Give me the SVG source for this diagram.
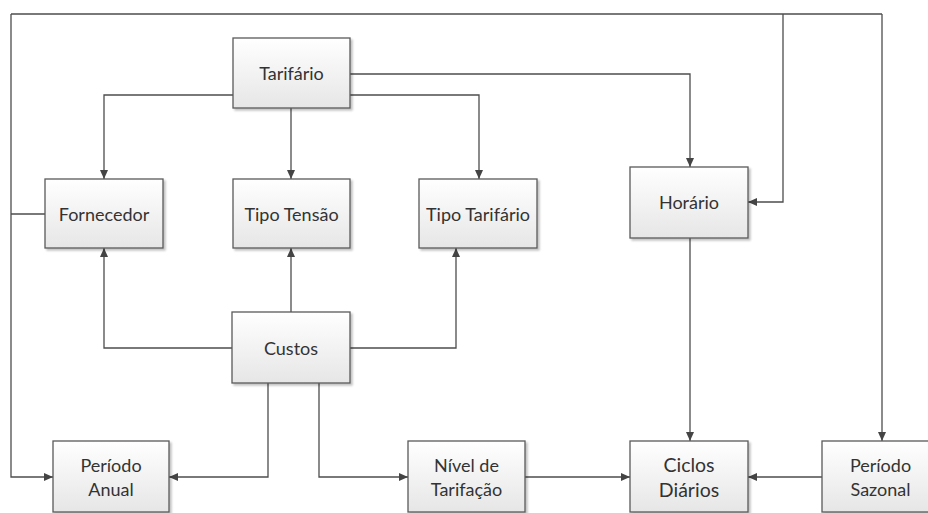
<svg xmlns="http://www.w3.org/2000/svg" width="928" height="513" viewBox="0 0 928 513">
  <style>
    .box { fill: url(#boxFill); stroke: #5a5a5a; stroke-width: 1.3; filter: url(#shadow); }
    .lbl { font-family: Lato, "Open Sans", "Liberation Sans", sans-serif; font-size: 18px; fill: #333333; text-anchor: middle; dominant-baseline: central; }
    .big { font-size: 19.5px; }
    .wire { fill: none; stroke: #4d4d4d; stroke-width: 1.3; }
    .arr { marker-end: url(#tip); }
  </style>
  <defs>
    <linearGradient id="boxFill" x1="0" y1="0" x2="0" y2="1">
      <stop offset="0" stop-color="#ffffff"/>
      <stop offset="1" stop-color="#e6e6e6"/>
    </linearGradient>
    <filter id="shadow" x="-10%" y="-10%" width="125%" height="125%">
      <feGaussianBlur in="SourceAlpha" stdDeviation="1"/>
      <feOffset dx="1.5" dy="1.5" result="b"/>
      <feComponentTransfer><feFuncA type="linear" slope="0.25"/></feComponentTransfer>
      <feMerge><feMergeNode/><feMergeNode in="SourceGraphic"/></feMerge>
    </filter>
    <marker id="tip" markerWidth="10" markerHeight="10" refX="9" refY="5" orient="auto" markerUnits="userSpaceOnUse">
      <path d="M0,1 L9,5 L0,9 Z" fill="#444"/>
    </marker>
  </defs>

  <rect width="928" height="513" fill="#ffffff"/>

  <g id="connectors">
    <!-- Tarifário outputs -->
    <path class="wire arr" d="M233,95 H104 V179"/>
    <path class="wire arr" d="M291,108 V179"/>
    <path class="wire arr" d="M350,95 H479 V179"/>
    <path class="wire arr" d="M350,74 H690 V167"/>
    <!-- outer loop from Fornecedor -->
    <path class="wire" d="M45,214 H11"/>
    <path class="wire arr" d="M11,14 V477 H53"/>
    <path class="wire" d="M11,14 H882"/>
    <path class="wire arr" d="M783,14 V202 H748"/>
    <path class="wire arr" d="M882,14 V441"/>
    <!-- Custos outputs -->
    <path class="wire arr" d="M232,348 H104 V248"/>
    <path class="wire arr" d="M291,312 V248"/>
    <path class="wire arr" d="M350,348 H456 V248"/>
    <path class="wire arr" d="M268,383 V477 H169"/>
    <path class="wire arr" d="M319,383 V477 H408"/>
    <!-- into Ciclos Diários -->
    <path class="wire arr" d="M525,477 H630"/>
    <path class="wire arr" d="M690,238 V441"/>
    <path class="wire arr" d="M822,477 H748"/>
  </g>

  <g id="tarifario">
    <rect class="box" x="233" y="38" width="117" height="70"/>
    <text class="lbl" x="291.5" y="73">Tarifário</text>
  </g>
  <g id="fornecedor">
    <rect class="box" x="45" y="179" width="118" height="69"/>
    <text class="lbl" x="104" y="214">Fornecedor</text>
  </g>
  <g id="tipo-tensao">
    <rect class="box" x="233" y="179" width="117" height="69"/>
    <text class="lbl" x="291.5" y="214">Tipo Tensão</text>
  </g>
  <g id="tipo-tarifario">
    <rect class="box" x="419" y="179" width="118" height="69"/>
    <text class="lbl" x="478" y="214">Tipo Tarifário</text>
  </g>
  <g id="horario">
    <rect class="box" x="630" y="167" width="118" height="71"/>
    <text class="lbl" x="689" y="202">Horário</text>
  </g>
  <g id="custos">
    <rect class="box" x="232" y="312" width="118" height="71"/>
    <text class="lbl" x="291" y="348">Custos</text>
  </g>
  <g id="periodo-anual">
    <rect class="box" x="53" y="441" width="116" height="71"/>
    <text class="lbl" x="111" y="465">Período</text>
    <text class="lbl" x="111" y="489">Anual</text>
  </g>
  <g id="nivel-tarifacao">
    <rect class="box" x="408" y="441" width="117" height="71"/>
    <text class="lbl" x="466.5" y="465">Nível de</text>
    <text class="lbl" x="466.5" y="489">Tarifação</text>
  </g>
  <g id="ciclos-diarios">
    <rect class="box" x="630" y="441" width="118" height="71"/>
    <text class="lbl big" x="689" y="464">Ciclos</text>
    <text class="lbl big" x="689" y="489">Diários</text>
  </g>
  <g id="periodo-sazonal">
    <rect class="box" x="822" y="441" width="117" height="71"/>
    <text class="lbl" x="880.5" y="465">Período</text>
    <text class="lbl" x="880.5" y="489">Sazonal</text>
  </g>
</svg>
